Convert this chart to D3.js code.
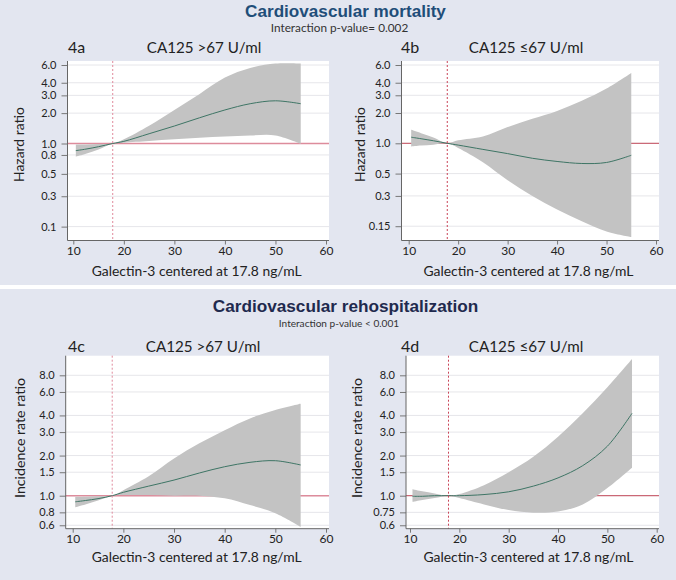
<!DOCTYPE html>
<html><head><meta charset="utf-8">
<script src="https://cdn.jsdelivr.net/npm/d3@7"></script>
<style>body{margin:0;background:#fff}svg{display:block}text{font-family:Lato,"Open Sans",sans-serif}</style>
</head><body><svg id="c" width="676" height="580"></svg>
<script>
// ---------- DATA ----------
const xs = [10.5, 12.5, 15, 17.8, 20, 25, 30, 35, 40, 45, 50, 55];
const est4a = [0.85, 0.88, 0.93, 1, 1.05, 1.25, 1.49, 1.8, 2.15, 2.48, 2.65, 2.48];
const hi4a  = [0.98, 0.98, 0.99, 1, 1.1, 1.5, 2.15, 3.1, 4.5, 5.6, 6.2, 6.2];
const lo4a  = [0.74, 0.79, 0.87, 1, 1.02, 1.06, 1.1, 1.14, 1.17, 1.2, 1.2, 0.99];
const est4b = [1.15, 1.11, 1.06, 1, 0.96, 0.87, 0.79, 0.71, 0.66, 0.63, 0.645, 0.76];
const hi4b  = [1.36, 1.26, 1.14, 1, 1.07, 1.17, 1.45, 1.75, 2.1, 2.65, 3.5, 5.0];
const lo4b  = [0.93, 0.95, 0.97, 1, 0.9, 0.65, 0.43, 0.30, 0.22, 0.168, 0.133, 0.117];
const est4c = [0.90, 0.92, 0.95, 1, 1.06, 1.18, 1.31, 1.48, 1.65, 1.78, 1.83, 1.70];
const hi4c  = [0.98, 0.98, 0.99, 1, 1.1, 1.4, 1.9, 2.47, 3.1, 3.8, 4.4, 4.9];
const lo4c  = [0.82, 0.86, 0.92, 1, 1.01, 1.01, 1.0, 1.0, 0.955, 0.85, 0.74, 0.585];
const est4d = [0.99, 0.99, 1.0, 1, 1.0, 1.02, 1.07, 1.18, 1.36, 1.68, 2.35, 4.15];
const hi4d  = [1.12, 1.08, 1.04, 1, 1.03, 1.2, 1.5, 1.96, 2.77, 4.15, 6.5, 10.6];
const lo4d  = [0.90, 0.93, 0.96, 1, 0.96, 0.86, 0.78, 0.745, 0.76, 0.86, 1.14, 1.62];

const xTicks = [10, 20, 30, 40, 50, 60];
const yTicksTop = [6, 4, 3, 2, 1, 0.77, 0.5, 0.3, 0.15];
const yLabels4a = ["6.0","4.0","3.0","2.0","1.0","0.8","0.5","0.3","0.1"];
const yTicks4b = [6, 4, 3, 2, 1, 0.5, 0.3, 0.15];
const yLabels4b = ["6.0","4.0","3.0","2.0","1.0","0.5","0.3","0.15"];
const yTicksBot = [8, 6, 4, 3, 2, 1.5, 1, 0.75, 0.6];
const yLabels4c = ["8.0","6.0","4.0","3.0","2.0","1.5","1.0","0.8","0.6"];
const yLabels4d = ["8.0","6.0","4.0","3.0","2.0","1.5","1.0","0.75","0.6"];
const refX = 17.8;

const sectionTitles = ["Cardiovascular mortality", "Cardiovascular rehospitalization"];
const sectionSubs = ["Interaction p-value= 0.002", "Interaction p-value < 0.001"];
const panelIds = ["4a", "4b", "4c", "4d"];
const panelTitles = ["CA125 >67 U/ml", "CA125 \u226467 U/ml", "CA125 >67 U/ml", "CA125 \u226467 U/ml"];
const yTitles = ["Hazard ratio", "Hazard ratio", "Incidence rate ratio", "Incidence rate ratio"];
const xTitle = "Galectin-3 centered at 17.8 ng/mL";

// ---------- LAYOUT ----------
const svg = d3.select("#c");
const bg = "#e3e6f0";
svg.append("rect").attr("x",0).attr("y",0).attr("width",676).attr("height",580).attr("fill","#fff");
svg.append("rect").attr("x",0).attr("y",0).attr("width",676).attr("height",285).attr("fill",bg);
svg.append("rect").attr("x",0).attr("y",289).attr("width",676).attr("height",291).attr("fill",bg);

function fit(t, w){
  const n = t.node(); const l = n.getComputedTextLength();
  const fs = parseFloat(t.attr("font-size"));
  if (l > 0) t.attr("font-size", (fs * w / l).toFixed(2));
  return t;
}

const secCfg = [
  {cx:345.5, y:17, color:"#1f4e79", sx:339.5, sy:32},
  {cx:345.5, y:312, color:"#1f2a4e", sx:339, sy:327}
];
const secW = [201, 265.7], subW = [137.6, 120.3];
secCfg.forEach((s,i)=>{
  fit(svg.append("text").attr("x",s.cx).attr("y",s.y).attr("text-anchor","middle")
    .style("font-family","'Liberation Sans',Arial,sans-serif")
    .attr("font-weight","bold").attr("font-size",17).attr("fill",s.color).text(sectionTitles[i]), secW[i]);
  fit(svg.append("text").attr("x",s.sx).attr("y",s.sy).attr("text-anchor","middle")
    .attr("font-size",11).attr("fill","#333").text(sectionSubs[i]), subW[i]);
});

const panels = [
  {est:est4a, hi:hi4a, lo:lo4a, L:67.5, R:329, T:61, B:240.5, x0:73.3, x1:326, yv:[1,6], yp:[143.5,65],
   ticks:yTicksTop, labels:yLabels4a, tcx:204, ty:53, idx:68, ytx:19, yty:144.5, ytw:75, xtx:196.7, xty:276, ref:"#dd8c9c", refW:1.6, vcol:"#e08a9c"},
  {est:est4b, hi:hi4b, lo:lo4b, L:401.5, R:659, T:61, B:240.5, x0:408.7, x1:656, yv:[1,6], yp:[143.3,65],
   ticks:yTicks4b, labels:yLabels4b, tcx:526, ty:53, idx:401, ytx:360, yty:144.5, ytw:75, xtx:528.5, xty:276, ref:"#c44a5a", refW:1, vcol:"#c94458"},
  {est:est4c, hi:hi4c, lo:lo4c, L:65.7, R:329, T:355.7, B:528.7, x0:72.7, x1:326, yv:[1,8], yp:[495.7,375.3],
   ticks:yTicksBot, labels:yLabels4c, tcx:203, ty:352, idx:68, ytx:20, yty:438, ytw:120, xtx:196.7, xty:562, ref:"#dd8c9c", refW:1.6, vcol:"#e08a9c"},
  {est:est4d, hi:hi4d, lo:lo4d, L:406, R:659, T:355.7, B:528.7, x0:410, x1:656.7, yv:[1,8], yp:[495.7,375.3],
   ticks:yTicksBot, labels:yLabels4d, tcx:526, ty:352, idx:401, ytx:356.7, yty:438, ytw:120, xtx:528.5, xty:562, ref:"#c44a5a", refW:1, vcol:"#c94458"}
];
const curve = d3.curveCatmullRom.alpha(0.5);
panels.forEach((p,i)=>{
  const g = svg.append("g");
  const x = d3.scaleLinear().domain([xTicks[0], xTicks[xTicks.length-1]]).range([p.x0, p.x1]);
  const y = d3.scaleLog().domain(p.yv).range(p.yp);
  g.append("rect").attr("x",p.L).attr("y",p.T).attr("width",p.R-p.L).attr("height",p.B-p.T).attr("fill","#fff");
  g.selectAll("line.grid").data(p.ticks).join("line").attr("class","grid")
    .attr("x1",p.L).attr("x2",p.R).attr("y1",d=>y(d)).attr("y2",d=>y(d))
    .attr("stroke","#e6e6ea").attr("stroke-width",1);
  g.append("line").attr("x1",p.L).attr("x2",p.R).attr("y1",y(1)).attr("y2",y(1))
    .attr("stroke",p.ref).attr("stroke-width",p.refW);
  const pts = xs.map((xv,k)=>({x:xv, e:p.est[k], h:p.hi[k], l:p.lo[k]}));
  g.append("path").datum(pts)
    .attr("d", d3.area().x(d=>x(d.x)).y0(d=>y(d.l)).y1(d=>y(d.h)).curve(curve))
    .attr("fill","#c3c3c3");
  g.append("path").datum(pts)
    .attr("d", d3.line().x(d=>x(d.x)).y(d=>y(d.e)).curve(curve))
    .attr("fill","none").attr("stroke","#3e7565").attr("stroke-width",1);
  g.append("line").attr("x1",x(refX)).attr("x2",x(refX)).attr("y1",p.T).attr("y2",p.B)
    .attr("stroke",p.vcol).attr("stroke-width",1).attr("stroke-dasharray","2,2");
  const ya = d3.axisLeft(y).tickValues(p.ticks).tickFormat((d,k)=>p.labels[k]).tickSize(6).tickPadding(5).tickSizeOuter(0);
  const yg = g.append("g").attr("transform",`translate(${p.L},0)`).call(ya);
  yg.select(".domain").remove();
  yg.append("line").attr("x1",0).attr("x2",0).attr("y1",p.T).attr("y2",p.B).attr("stroke","#666");
  yg.selectAll(".tick line").attr("stroke","#777");
  yg.selectAll(".tick text").attr("font-size",11).attr("fill","#222").style("font-family","Lato,sans-serif");
  const xa = d3.axisBottom(x).tickValues(xTicks).tickSize(4).tickPadding(2);
  const xg = g.append("g").attr("transform",`translate(0,${p.B})`).call(xa);
  xg.select(".domain").remove();
  xg.append("line").attr("x1",p.L).attr("x2",p.R).attr("y1",0).attr("y2",0).attr("stroke","#666");
  xg.selectAll(".tick line").attr("stroke","#777");
  xg.selectAll(".tick text").attr("font-size",12).attr("fill","#222").style("font-family","Lato,sans-serif");
  g.append("text").attr("x",p.idx).attr("y",p.ty).attr("font-size",16).attr("fill","#222").text(panelIds[i]);
  fit(g.append("text").attr("x",p.tcx).attr("y",p.ty).attr("text-anchor","middle").attr("font-size",16)
    .attr("fill","#222").text(panelTitles[i]), 114.5);
  fit(g.append("text").attr("transform",`translate(${p.ytx},${p.yty}) rotate(-90)`).attr("text-anchor","middle")
    .attr("dy","0.35em").attr("font-size",14).attr("fill","#222").text(yTitles[i]), p.ytw);
  fit(g.append("text").attr("x",p.xtx).attr("y",p.xty).attr("text-anchor","middle").attr("font-size",14)
    .attr("fill","#222").text(xTitle), 210);
});
</script></body></html>
